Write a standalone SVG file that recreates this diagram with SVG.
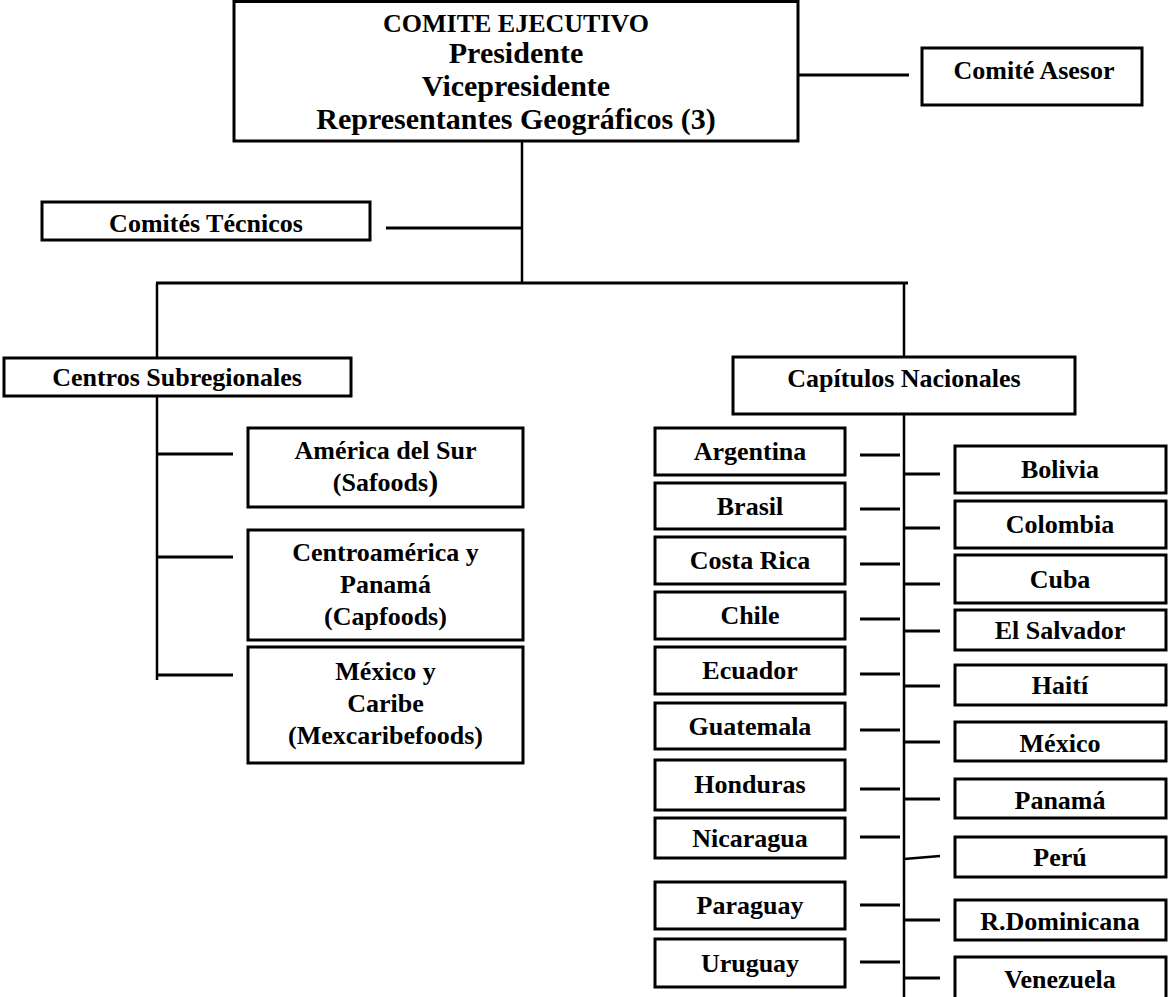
<svg xmlns="http://www.w3.org/2000/svg" width="1172" height="997" viewBox="0 0 1172 997">
<style>
.box{fill:#fff;stroke:#000;stroke-width:3}
.t{font-family:"Liberation Serif","Times New Roman",serif;font-weight:bold;font-size:26px;fill:#000;text-anchor:middle}
.big{font-size:30px}
.ln{stroke:#000;stroke-width:3;fill:none}
.tr{stroke:#000;stroke-width:2.5;fill:none}
</style>
<rect width="1172" height="997" fill="#fff"/>
<g id="connectors">
<line class="ln" x1="798" y1="75" x2="909" y2="75"/>
<line class="tr" x1="522" y1="141" x2="522" y2="284"/>
<line class="ln" x1="386" y1="228" x2="522" y2="228"/>
<line class="ln" x1="156" y1="283" x2="908" y2="283"/>
<line class="tr" x1="157" y1="283" x2="157" y2="358"/>
<line class="tr" x1="904" y1="283" x2="904" y2="356"/>
<line class="tr" x1="157" y1="396" x2="157" y2="680"/>
<line class="ln" x1="157" y1="454" x2="233" y2="454"/>
<line class="ln" x1="157" y1="557" x2="233" y2="557"/>
<line class="ln" x1="157" y1="675" x2="233" y2="675"/>
<line class="tr" x1="904" y1="414" x2="904" y2="997"/>
<line class="ln" x1="860" y1="455" x2="900" y2="455"/>
<line class="ln" x1="860" y1="509" x2="900" y2="509"/>
<line class="ln" x1="860" y1="564" x2="900" y2="564"/>
<line class="ln" x1="860" y1="619" x2="900" y2="619"/>
<line class="ln" x1="860" y1="674" x2="900" y2="674"/>
<line class="ln" x1="860" y1="730" x2="900" y2="730"/>
<line class="ln" x1="860" y1="789" x2="900" y2="789"/>
<line class="ln" x1="860" y1="837" x2="900" y2="837"/>
<line class="ln" x1="860" y1="905" x2="900" y2="905"/>
<line class="ln" x1="860" y1="962" x2="900" y2="962"/>
<line class="ln" x1="904" y1="474" x2="940" y2="474"/>
<line class="ln" x1="904" y1="528" x2="940" y2="528"/>
<line class="ln" x1="904" y1="584" x2="940" y2="584"/>
<line class="ln" x1="904" y1="631" x2="940" y2="631"/>
<line class="ln" x1="904" y1="686" x2="940" y2="686"/>
<line class="ln" x1="904" y1="742" x2="940" y2="742"/>
<line class="ln" x1="904" y1="799" x2="940" y2="799"/>
<line class="tr" x1="904" y1="859" x2="940" y2="856"/>
<line class="ln" x1="904" y1="920" x2="940" y2="920"/>
<line class="ln" x1="904" y1="978" x2="940" y2="978"/>
</g>
<g id="comite-ejecutivo">
<rect class="box" x="234" y="1.5" width="564" height="139.5"/>
<text class="t" x="516" y="32">COMITE EJECUTIVO</text>
<text class="t big" x="516" y="63">Presidente</text>
<text class="t big" x="516" y="96">Vicepresidente</text>
<text class="t big" x="516" y="129">Representantes Geográficos (3)</text>
</g>
<g id="comite-asesor">
<rect class="box" x="922" y="48" width="220" height="57"/>
<text class="t" x="1034" y="79">Comité Asesor</text>
</g>
<g id="comites-tecnicos">
<rect class="box" x="42" y="202" width="328" height="38"/>
<text class="t" x="206" y="232">Comités Técnicos</text>
</g>
<g id="centros-subregionales">
<rect class="box" x="4" y="358" width="347" height="38"/>
<text class="t" x="177" y="386">Centros Subregionales</text>
</g>
<g id="capitulos-nacionales">
<rect class="box" x="733" y="357" width="342" height="57"/>
<text class="t" x="904" y="387">Capítulos Nacionales</text>
</g>
<g id="america-del-sur">
<rect class="box" x="248" y="428" width="275" height="79"/>
<text class="t" x="385.5" y="459">América del Sur</text>
<text class="t" x="385.5" y="491">(Safoods<tspan style="font-size:30px">)</tspan></text>
</g>
<g id="centroamerica">
<rect class="box" x="248" y="530" width="275" height="110"/>
<text class="t" x="385.5" y="561">Centroamérica y</text>
<text class="t" x="385.5" y="593">Panamá</text>
<text class="t" x="385.5" y="625">(Capfoods)</text>
</g>
<g id="mexico-caribe">
<rect class="box" x="248" y="647" width="275" height="116"/>
<text class="t" x="385.5" y="680">México y</text>
<text class="t" x="385.5" y="712">Caribe</text>
<text class="t" x="385.5" y="744">(Mexcaribefoods)</text>
</g>
<g id="argentina"><rect class="box" x="655" y="428" width="190" height="47"/><text class="t" x="750" y="460">Argentina</text></g>
<g id="brasil"><rect class="box" x="655" y="483" width="190" height="46"/><text class="t" x="750" y="514.5">Brasil</text></g>
<g id="costa-rica"><rect class="box" x="655" y="537" width="190" height="47"/><text class="t" x="750" y="569">Costa Rica</text></g>
<g id="chile"><rect class="box" x="655" y="592" width="190" height="47"/><text class="t" x="750" y="624">Chile</text></g>
<g id="ecuador"><rect class="box" x="655" y="647" width="190" height="47"/><text class="t" x="750" y="679">Ecuador</text></g>
<g id="guatemala"><rect class="box" x="655" y="703" width="190" height="46"/><text class="t" x="750" y="734.5">Guatemala</text></g>
<g id="honduras"><rect class="box" x="655" y="760" width="190" height="50"/><text class="t" x="750" y="793">Honduras</text></g>
<g id="nicaragua"><rect class="box" x="655" y="818" width="190" height="40"/><text class="t" x="750" y="846.5">Nicaragua</text></g>
<g id="paraguay"><rect class="box" x="655" y="882" width="190" height="47"/><text class="t" x="750" y="914">Paraguay</text></g>
<g id="uruguay"><rect class="box" x="655" y="939" width="190" height="48"/><text class="t" x="750" y="971.5">Uruguay</text></g>
<g id="bolivia"><rect class="box" x="955" y="446" width="211" height="47"/><text class="t" x="1060" y="478">Bolivia</text></g>
<g id="colombia"><rect class="box" x="955" y="501" width="211" height="47"/><text class="t" x="1060" y="533">Colombia</text></g>
<g id="cuba"><rect class="box" x="955" y="555" width="211" height="48"/><text class="t" x="1060" y="587.5">Cuba</text></g>
<g id="el-salvador"><rect class="box" x="955" y="610" width="211" height="40"/><text class="t" x="1060" y="638.5">El Salvador</text></g>
<g id="haiti"><rect class="box" x="955" y="665" width="211" height="40"/><text class="t" x="1060" y="694">Haití</text></g>
<g id="mexico"><rect class="box" x="955" y="722" width="211" height="39"/><text class="t" x="1060" y="752">México</text></g>
<g id="panama"><rect class="box" x="955" y="779" width="211" height="39"/><text class="t" x="1060" y="809">Panamá</text></g>
<g id="peru"><rect class="box" x="955" y="837" width="211" height="40"/><text class="t" x="1060" y="866">Perú</text></g>
<g id="r-dominicana"><rect class="box" x="955" y="900" width="211" height="40"/><text class="t" x="1060" y="930">R.Dominicana</text></g>
<g id="venezuela"><rect class="box" x="955" y="957" width="211" height="46"/><text class="t" x="1060" y="988">Venezuela</text></g>
</svg>
